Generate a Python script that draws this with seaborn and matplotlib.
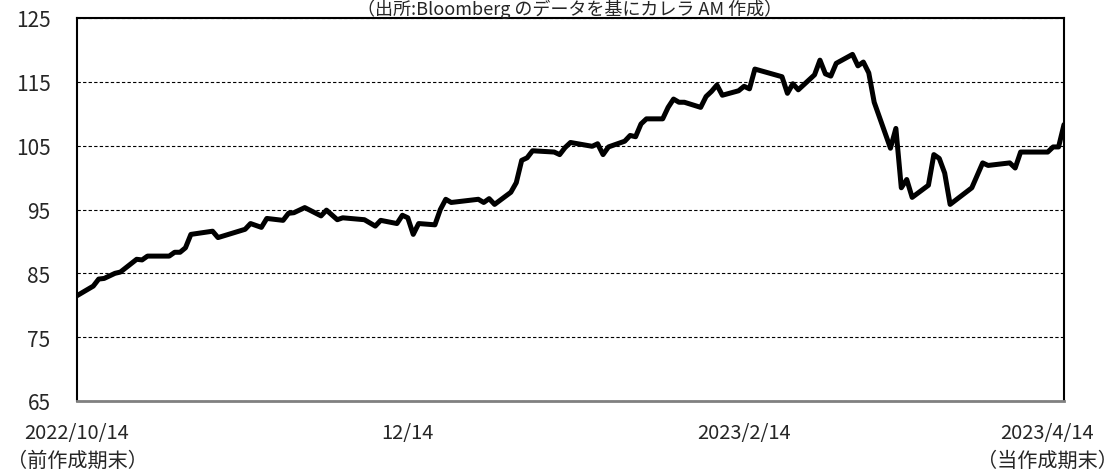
import matplotlib
matplotlib.use('Agg')
import matplotlib.pyplot as plt
import matplotlib.transforms as mtransforms
import seaborn as sns
import pandas as pd

# values
dates = ["2022-10-14", "2022-10-17", "2022-10-18", "2022-10-19", "2022-10-21", "2022-10-22",
         "2022-10-25", "2022-10-26", "2022-10-27", "2022-10-31", "2022-11-01", "2022-11-02",
         "2022-11-03", "2022-11-04", "2022-11-08", "2022-11-09", "2022-11-14", "2022-11-15",
         "2022-11-17", "2022-11-18", "2022-11-21", "2022-11-22", "2022-11-23", "2022-11-25",
         "2022-11-28", "2022-11-29", "2022-12-01", "2022-12-02", "2022-12-06", "2022-12-08",
         "2022-12-09", "2022-12-12", "2022-12-13", "2022-12-14", "2022-12-15", "2022-12-16",
         "2022-12-19", "2022-12-20", "2022-12-21", "2022-12-22", "2022-12-27", "2022-12-28",
         "2022-12-29", "2022-12-30", "2023-01-02", "2023-01-03", "2023-01-04", "2023-01-05",
         "2023-01-06", "2023-01-10", "2023-01-11", "2023-01-12", "2023-01-13", "2023-01-17",
         "2023-01-18", "2023-01-19", "2023-01-20", "2023-01-23", "2023-01-24", "2023-01-25",
         "2023-01-26", "2023-01-27", "2023-01-30", "2023-01-31", "2023-02-01", "2023-02-02",
         "2023-02-03", "2023-02-06", "2023-02-07", "2023-02-08", "2023-02-09", "2023-02-10",
         "2023-02-13", "2023-02-14", "2023-02-15", "2023-02-16", "2023-02-21", "2023-02-22",
         "2023-02-23", "2023-02-24", "2023-02-27", "2023-02-28", "2023-03-01", "2023-03-02",
         "2023-03-03", "2023-03-06", "2023-03-07", "2023-03-08", "2023-03-09", "2023-03-10",
         "2023-03-13", "2023-03-14", "2023-03-15", "2023-03-16", "2023-03-17", "2023-03-20",
         "2023-03-21", "2023-03-22", "2023-03-23", "2023-03-24", "2023-03-28", "2023-03-30",
         "2023-03-31", "2023-04-04", "2023-04-05", "2023-04-06", "2023-04-11", "2023-04-12",
         "2023-04-13", "2023-04-14"]
values = [81.5, 83.0, 84.1, 84.2, 85.0, 85.2,
          87.2, 87.1, 87.7, 87.7, 88.3, 88.3,
          89.0, 91.1, 91.6, 90.6, 91.9, 92.8,
          92.2, 93.6, 93.3, 94.4, 94.5, 95.3,
          94.0, 94.9, 93.4, 93.7, 93.4, 92.4,
          93.3, 92.8, 94.1, 93.7, 91.1, 92.8,
          92.6, 95.0, 96.6, 96.1, 96.6, 96.1,
          96.7, 95.8, 97.7, 99.2, 102.7, 103.1,
          104.2, 104.0, 103.6, 104.7, 105.5, 104.9,
          105.3, 103.6, 104.8, 105.7, 106.6, 106.4,
          108.4, 109.2, 109.2, 111.0, 112.3, 111.8,
          111.8, 111.0, 112.7, 113.5, 114.5, 112.9,
          113.6, 114.3, 113.9, 117.0, 115.8, 113.2,
          114.7, 113.75, 116.1, 118.4, 116.25, 115.9,
          117.9, 119.3, 117.5, 118.1, 116.4, 111.8,
          104.6, 107.7, 98.4, 99.7, 96.9, 98.8,
          103.6, 103.0, 100.7, 95.8, 98.4, 102.3,
          101.9, 102.3, 101.5, 104.0, 104.0, 104.8,
          104.8, 108.3]

tick_dates = ["2022-10-14", "2022-12-14", "2023-02-14", "2023-04-14"]
tick_labels = ["2022/10/14\n（前作成期末）", "12/14", "2023/2/14", "2023/4/14\n（当作成期末）"]
y_ticks = [65, 75, 85, 95, 105, 115, 125]
title = "（出所:Bloomberg のデータを基にカレラ AM 作成）"

sns.set_style("white")
plt.rcParams['font.family'] = ['Noto Sans CJK JP', 'DejaVu Sans']

df = pd.DataFrame({'date': pd.to_datetime(dates), 'value': values})

fig = plt.figure(figsize=(11.17, 4.77), dpi=100)
ax = fig.add_axes([77/1117, 1 - 402/477, (1064 - 77)/1117, (402 - 19)/477])

sns.lineplot(data=df, x='date', y='value', color='black', linewidth=3.6, ax=ax)

ax.set_xlim(pd.Timestamp(tick_dates[0]), pd.Timestamp(tick_dates[-1]))
ax.set_ylim(65, 125)
ax.set_yticks(y_ticks)
ax.set_xticks(pd.to_datetime(tick_dates))
ax.set_xticklabels(tick_labels, fontsize=14.5, linespacing=1.45)
ax.set_yticklabels([str(v) for v in y_ticks], fontsize=15)
ax.set_xlabel('')
ax.set_ylabel('')

ax.grid(axis='y', color='black', linestyle=(0, (3, 2)), linewidth=0.8)
ax.grid(axis='x', visible=False)
ax.tick_params(axis='y', length=0, pad=19)
ax.tick_params(axis='x', direction='in', length=6, width=1.5, color='black', pad=15)

for side in ['top', 'left', 'right']:
    ax.spines[side].set_color('black')
    ax.spines[side].set_linewidth(1.5)
ax.spines['bottom'].set_color('#808080')
ax.spines['bottom'].set_linewidth(2)

# last label is pulled left so it stays inside the figure
last = ax.get_xticklabels()[-1]
last.set_transform(last.get_transform() + mtransforms.ScaledTranslation(-0.17, 0, fig.dpi_scale_trans))

# source note sits just above the plot frame
fig.text(570/1117, 1 - 15/477, title, ha='center', va='baseline', fontsize=13)

fig.savefig('out.png', dpi=100)
